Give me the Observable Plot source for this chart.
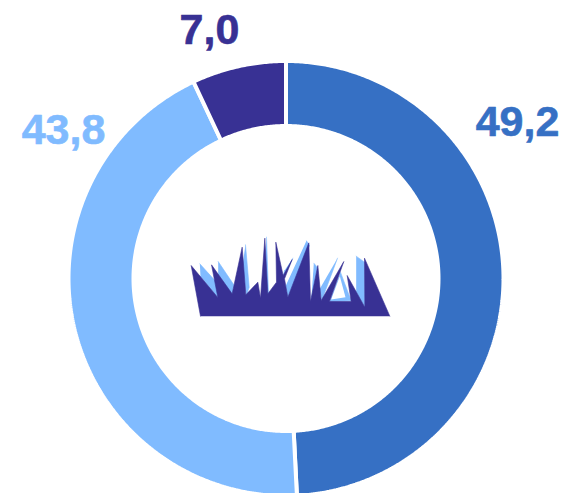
<!DOCTYPE html>
<html>
<head>
<meta charset="utf-8">
<script src="https://cdn.jsdelivr.net/npm/d3@7"></script>
<script src="https://cdn.jsdelivr.net/npm/@observablehq/plot@0.6"></script>
<style>html,body{margin:0;padding:0;background:#fff}svg{display:block}</style>
</head>
<body>
<div id="chart"></div>
<script>
const categories = ["a", "b", "c"];
const values = [49.2, 43.8, 7.0];
const colors = ["#3670C4", "#80BBFF", "#383194"];
// Label anchors are free-placed around the ring in the reference
const labelX = [231.5, -222.5, -76.5];
const labelY = [156, 148.5, 248.5];

const outerR = 217.5, innerR = 152.5;
const fmt = v => v.toFixed(1).replace(".", ",");

const arcs = d3.pie().sort(null).value(d => d)(values);
const ring = [];
arcs.forEach((a, i) => {
  const n = Math.ceil((a.endAngle - a.startAngle) * 120);
  const pts = [];
  for (let k = 0; k <= n; k++) {
    const t = a.startAngle + (a.endAngle - a.startAngle) * k / n;
    pts.push([outerR * Math.sin(t), outerR * Math.cos(t)]);
  }
  for (let k = n; k >= 0; k--) {
    const t = a.startAngle + (a.endAngle - a.startAngle) * k / n;
    pts.push([innerR * Math.sin(t), innerR * Math.cos(t)]);
  }
  pts.push(pts[0]);
  pts.forEach(p => ring.push({cat: categories[i], x: p[0], y: p[1]}));
});

const labels = categories.map((c, i) => ({cat: c, text: fmt(values[i]), x: labelX[i], y: labelY[i]}));

// Central grass emblem, traced in 3x zoom units of a 220x100 box
const grassLight = [
  [[58,115],[106,168],[114,218],[60,152]],
  [[113,108],[160,178],[156,208],[113,146]],
  [[195,58],[206,185],[198,210],[186,120]],
  [[258,35],[264,205],[248,200]],
  [[337,98],[305,165],[312,135]],
  [[378,46],[387,60],[328,200],[322,215],[316,180]],
  [[400,113],[410,125],[392,228]],
  [[471,98],[424,224],[418,190]],
  [[480,140],[512,226],[447,228]],
  [[527,92],[552,110],[553,245],[527,198]]
];
const grassHole = [[478,152],[495,215],[452,222]];
const grassDark = [
  [60,272],[32,120],[112,216],[93,118],[155,205],[185,65],[196,208],[232,170],[240,218],
  [253,38],[262,205],[288,170],[286,50],[308,150],[335,102],[312,160],[322,215],[385,52],
  [390,228],[412,120],[422,225],[490,108],[447,228],[512,228],[500,150],[553,245],[552,98],[628,272]
];
const toIcon = (p) => ({x: p[0] / 3 + 180 - 285.5, y: 278 - (p[1] / 3 + 225)});
const light = grassLight.flatMap((poly, i) => poly.map(p => ({z: i, ...toIcon(p)})));
const hole = grassHole.map(toIcon);
const dark = grassDark.map(toIcon);

const plot = Plot.plot({
  width: 564,
  height: 493,
  margin: 0,
  x: {domain: [-285.5, 278.5], axis: null},
  y: {domain: [-215, 278], axis: null},
  color: {domain: categories, range: colors},
  style: {background: "#fff"},
  marks: [
    Plot.line(ring, {x: "x", y: "y", z: "cat", fill: "cat", stroke: "#fff", strokeWidth: 4, curve: "linear", strokeLinejoin: "miter"}),
    Plot.line(light, {x: "x", y: "y", z: "z", fill: "#80BBFF", stroke: "#80BBFF", strokeWidth: 0.6, curve: "linear"}),
    Plot.line(hole, {x: "x", y: "y", fill: "#fff", stroke: "none", curve: "linear"}),
    Plot.line(dark, {x: "x", y: "y", fill: "#383194", stroke: "#383194", strokeWidth: 0.6, curve: "linear"}),
    Plot.text(labels, {x: "x", y: "y", text: "text", fill: "cat", stroke: "cat", strokeWidth: 0.6, fontSize: 43, fontWeight: "bold", fontFamily: "Liberation Sans", textAnchor: "middle", lineAnchor: "middle"})
  ]
});
document.getElementById("chart").append(plot);
</script>
</body>
</html>
